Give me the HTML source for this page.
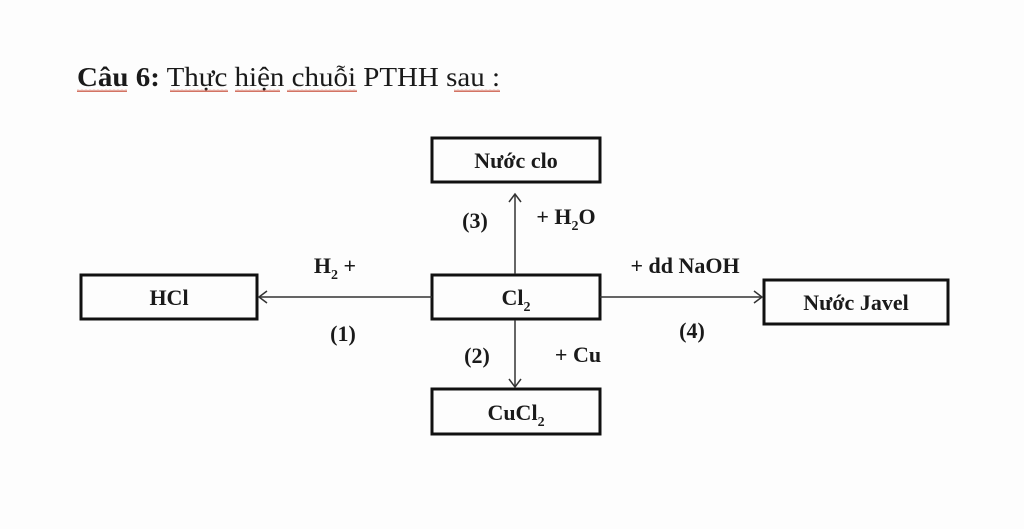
<!DOCTYPE html>
<html><head><meta charset="utf-8"><style>
html,body{margin:0;padding:0;background:#fdfdfd;}
svg{display:block}
text{font-family:"Liberation Serif",serif;fill:#1a1a1a;}
</style></head><body>
<svg width="1024" height="529" viewBox="0 0 1024 529" xmlns="http://www.w3.org/2000/svg">
<defs>
<pattern id="wv" width="4" height="3" patternUnits="userSpaceOnUse"><path d="M0 2 L1 0.5 L2 2 L3 0.5 L4 2" stroke="#c8503c" stroke-width="0.8" fill="none"/></pattern>
</defs>
<rect width="1024" height="529" fill="#fdfdfd"/>
<text x="77" y="86" font-size="27.5" textLength="423" lengthAdjust="spacingAndGlyphs"><tspan font-weight="bold">Câu 6:</tspan> Thực hiện chuỗi PTHH sau :</text>
<g fill="url(#wv)">
<rect x="77" y="89" width="50" height="3"/><rect x="170" y="89" width="58" height="3"/><rect x="235" y="89" width="45" height="3"/><rect x="287" y="89" width="70" height="3"/><rect x="454" y="89" width="46" height="3"/>
</g>
<g fill="none" stroke="#111" stroke-width="3">
<rect x="432" y="138" width="168" height="44"/>
<rect x="81" y="275" width="176" height="44"/>
<rect x="432" y="275" width="168" height="44"/>
<rect x="764" y="280" width="184" height="44"/>
<rect x="432" y="389" width="168" height="45"/>
</g>
<g stroke="#333" stroke-width="1.5" fill="none">
<line x1="432" y1="297" x2="259" y2="297"/><polyline points="267,291 259,297 267,303"/>
<line x1="600" y1="297" x2="762" y2="297"/><polyline points="754,291 762,297 754,303"/>
<line x1="515" y1="274" x2="515" y2="194"/><polyline points="509,202 515,194 521,202"/>
<line x1="515" y1="320" x2="515" y2="387"/><polyline points="509,379 515,387 521,379"/>
</g>
<g font-weight="bold" font-size="22" text-anchor="middle">
<text x="516" y="168">Nước clo</text>
<text x="169" y="305">HCl</text>
<text x="516" y="305">Cl<tspan font-size="14" dy="6">2</tspan></text>
<text x="856" y="310">Nước Javel</text>
<text x="516" y="420">CuCl<tspan font-size="14" dy="6">2</tspan></text>
<text x="335" y="273">H<tspan font-size="14" dy="6">2</tspan><tspan dy="-6"> +</tspan></text>
<text x="685" y="273">+ dd NaOH</text>
<text x="343" y="341">(1)</text>
<text x="692" y="338">(4)</text>
<text x="475" y="228">(3)</text>
<text x="566" y="224">+ H<tspan font-size="14" dy="6">2</tspan><tspan dy="-6">O</tspan></text>
<text x="477" y="363">(2)</text>
<text x="578" y="362">+ Cu</text>
</g>
</svg>
</body></html>
